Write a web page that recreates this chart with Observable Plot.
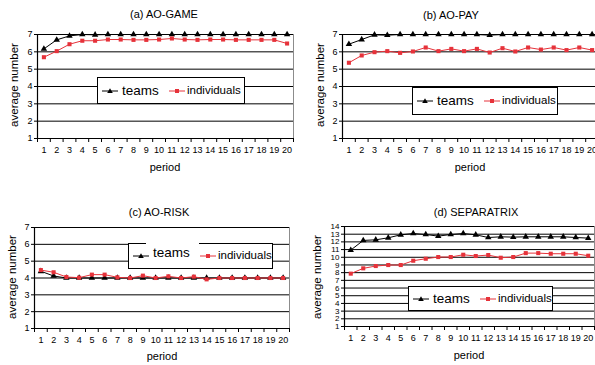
<!DOCTYPE html>
<html><head><meta charset="utf-8">
<script src="https://cdn.jsdelivr.net/npm/d3@7"></script>
<script src="https://cdn.jsdelivr.net/npm/@observablehq/plot@0.6"></script>
<style>
body{margin:0;background:#fff;font-family:"Liberation Sans",Arial,sans-serif;overflow:hidden;}
#wrap{position:relative;width:595px;height:365px;overflow:hidden;background:#fff;}
.pane{position:absolute;}
.t{position:absolute;font-size:11px;transform:translate(-50%,-50%);white-space:nowrap;color:#000;line-height:1;}
.ylab{position:absolute;font-size:11.5px;transform:translate(-50%,-50%) rotate(-90deg);white-space:nowrap;color:#000;line-height:1;}
.leg{position:absolute;background:#fff;border:1px solid #000;box-sizing:border-box;}
.leg .it{position:absolute;top:50%;transform:translateY(-50%);white-space:nowrap;line-height:1;}
.leg svg{position:absolute;top:50%;transform:translateY(-50%);}
</style></head>
<body><div id="wrap"></div>
<script>
const periods = [1,2,3,4,5,6,7,8,9,10,11,12,13,14,15,16,17,18,19,20];
const yTicks7 = [1,2,3,4,5,6,7];
const yTicks14 = [1,2,3,4,5,6,7,8,9,10,11,12,13,14];
const seriesNames = ["teams", "individuals"];

const aoGameTeams = [6.17,6.69,6.92,7.0,6.98,7.0,7.0,7.0,7.0,7.0,7.0,7.0,7.0,7.0,7.0,7.0,7.0,7.0,7.0,7.0];
const aoGameInd   = [5.69,6.04,6.44,6.64,6.64,6.71,6.71,6.69,6.69,6.71,6.77,6.71,6.69,6.71,6.71,6.69,6.69,6.69,6.69,6.48];
const aoPayTeams  = [6.44,6.71,6.98,6.96,7.0,7.0,7.0,7.0,7.0,7.0,7.0,6.96,7.0,7.0,7.0,7.0,7.0,7.0,7.0,7.0];
const aoPayInd    = [5.37,5.79,5.98,6.04,5.94,6.02,6.25,6.04,6.17,6.04,6.17,5.96,6.21,6.02,6.25,6.13,6.25,6.10,6.25,6.10];
const aoRiskTeams = [4.40,4.12,4.0,4.0,4.0,4.0,4.0,4.0,4.0,4.0,4.0,4.0,4.0,4.0,4.0,4.0,4.0,4.0,4.0,4.0];
const aoRiskInd   = [4.47,4.34,4.06,4.02,4.20,4.20,4.04,4.0,4.14,4.0,4.10,4.0,4.08,3.92,4.0,4.0,4.0,4.0,4.0,4.0];
const sepTeams    = [10.93,12.19,12.27,12.53,12.92,13.09,12.96,12.75,12.96,13.09,12.92,12.57,12.66,12.62,12.66,12.66,12.66,12.66,12.57,12.49];
const sepInd      = [7.87,8.56,8.86,8.99,8.99,9.55,9.81,10.03,10.03,10.33,10.16,10.29,9.94,10.03,10.54,10.54,10.46,10.46,10.46,10.20];

const RED = "#e6323a";
const wrap = document.getElementById("wrap");
const boundaries = periods.map(p => p - 0.5).concat([periods[periods.length-1] + 0.5]);

function addDiv(cls, text, x, y, extra) {
  const d = document.createElement("div");
  d.className = cls; d.textContent = text;
  d.style.left = x + "px"; d.style.top = y + "px";
  if (extra) Object.assign(d.style, extra);
  wrap.appendChild(d);
  return d;
}

function panel(o) {
  const data = periods.map((p, i) => ({p, teams: o.teams[i], ind: o.ind[i]}));
  const yt = o.ticks;
  const chart = Plot.plot({
    width: o.width, height: o.height,
    marginLeft: o.mL, marginRight: o.mR, marginTop: o.mT, marginBottom: o.mB,
    x: {domain: [0.5, 20.5]},
    y: {domain: [yt[0], yt[yt.length-1]]},
    style: {fontFamily: "'Liberation Sans', Arial, sans-serif", fontSize: "9px", color: "#000", background: "transparent", overflow: "visible"},
    marks: [
      Plot.ruleY(yt, {stroke: "#000", strokeWidth: 1}),
      Plot.ruleX([20.5], {stroke: "#8c8c8c", strokeWidth: 1}),
      Plot.ruleX([0.5], {stroke: "#000", strokeWidth: 1.2}),
      Plot.ruleY([yt[0]], {stroke: "#000", strokeWidth: 1.2}),
      Plot.axisY(yt, {tickSize: 3, tickPadding: 2, label: null, fontSize: o.yFont || 9}),
      Plot.axisX(boundaries, {tickSize: 4, tickFormat: () => "", label: null}),
      Plot.axisX(periods, {tickSize: 0, tickPadding: 8, label: null, fontSize: 9}),
      Plot.line(data, {x: "p", y: "teams", stroke: "#000", strokeWidth: 1}),
      Plot.dot(data, {x: "p", y: "teams", symbol: "triangle", fill: "#000", stroke: "none", r: 2.4}),
      Plot.line(data, {x: "p", y: "ind", stroke: RED, strokeWidth: 1}),
      Plot.dot(data, {x: "p", y: "ind", symbol: "square", fill: RED, stroke: "none", r: 2.3})
    ]
  });
  const div = document.createElement("div");
  div.className = "pane";
  div.style.left = o.left + "px"; div.style.top = o.top + "px";
  div.style.width = o.width + "px"; div.style.height = o.height + "px";
  div.appendChild(chart);
  wrap.appendChild(div);

  addDiv("t", o.title, o.titleX, o.titleY);
  addDiv("ylab", "average number", o.ylabX, o.ylabY);
  addDiv("t", "period", o.xlabX, o.xlabY);

  // legend
  const L = o.leg;
  const box = document.createElement("div");
  box.className = "leg";
  Object.assign(box.style, {left: L.x + "px", top: L.y + "px", width: L.w + "px", height: L.h + "px"});
  const sw = (left, color, sym) => {
    const ns = "http://www.w3.org/2000/svg";
    const s = document.createElementNS(ns, "svg");
    s.setAttribute("width", 16); s.setAttribute("height", 8);
    s.style.left = left + "px";
    const ln = document.createElementNS(ns, "line");
    ln.setAttribute("x1", 0); ln.setAttribute("x2", 16); ln.setAttribute("y1", 4); ln.setAttribute("y2", 4);
    ln.setAttribute("stroke", color); ln.setAttribute("stroke-width", 1);
    s.appendChild(ln);
    const m = document.createElementNS(ns, "path");
    m.setAttribute("d", sym === "tri" ? "M8,1.2L10.8,6L5.2,6Z" : "M6,2H10V6H6Z");
    m.setAttribute("fill", color);
    s.appendChild(m);
    box.appendChild(s);
  };
  sw(4, "#000", "tri");
  const t1 = document.createElement("div"); t1.className = "it"; t1.textContent = seriesNames[0];
  t1.style.left = "24px"; t1.style.fontSize = "13.5px";
  if (L.ty) t1.style.marginTop = L.ty + "px";
  box.appendChild(t1);
  sw(71, RED, "sq");
  const t2 = document.createElement("div"); t2.className = "it"; t2.textContent = seriesNames[1];
  t2.style.left = "89px"; t2.style.fontSize = "11.5px";
  box.appendChild(t2);
  wrap.appendChild(box);
  if (L.gap) {
    const g = document.createElement("div");
    Object.assign(g.style, {position: "absolute", background: "#fff", left: (L.x + L.gap[0]) + "px", top: (L.y - 1) + "px", width: (L.gap[1] - L.gap[0]) + "px", height: "3px"});
    wrap.appendChild(g);
  }
}

panel({teams: aoGameTeams, ind: aoGameInd, ticks: yTicks7,
  left: 0, top: 0, width: 297, height: 180, mL: 37, mR: 4, mT: 34, mB: 42,
  title: "(a) AO-GAME", titleX: 164, titleY: 14,
  ylabX: 15, ylabY: 85, xlabX: 165, xlabY: 167,
  leg: {x: 97, y: 77, w: 148, h: 27}});

panel({teams: aoPayTeams, ind: aoPayInd, ticks: yTicks7,
  left: 297, top: 0, width: 303, height: 180, mL: 45, mR: 2, mT: 34, mB: 42,
  title: "(b) AO-PAY", titleX: 451, titleY: 15,
  ylabX: 321, ylabY: 85, xlabX: 470, xlabY: 167,
  leg: {x: 412, y: 87, w: 146, h: 28}});

panel({teams: aoRiskTeams, ind: aoRiskInd, ticks: yTicks7,
  left: 0, top: 180, width: 297, height: 185, mL: 34, mR: 8, mT: 47, mB: 37,
  title: "(c) AO-RISK", titleX: 159, titleY: 212,
  ylabX: 13, ylabY: 277, xlabX: 162, xlabY: 356,
  leg: {x: 128, y: 243, w: 145, h: 26, ty: -3, gap: [18, 71]}});

panel({teams: sepTeams, ind: sepInd, ticks: yTicks14, yFont: 8,
  left: 297, top: 180, width: 298, height: 185, mL: 47, mR: 1, mT: 46, mB: 39,
  title: "(d) SEPARATRIX", titleX: 476, titleY: 212,
  ylabX: 318, ylabY: 277, xlabX: 469, xlabY: 355,
  leg: {x: 408, y: 286, w: 145, h: 25}});
</script>
</body></html>
